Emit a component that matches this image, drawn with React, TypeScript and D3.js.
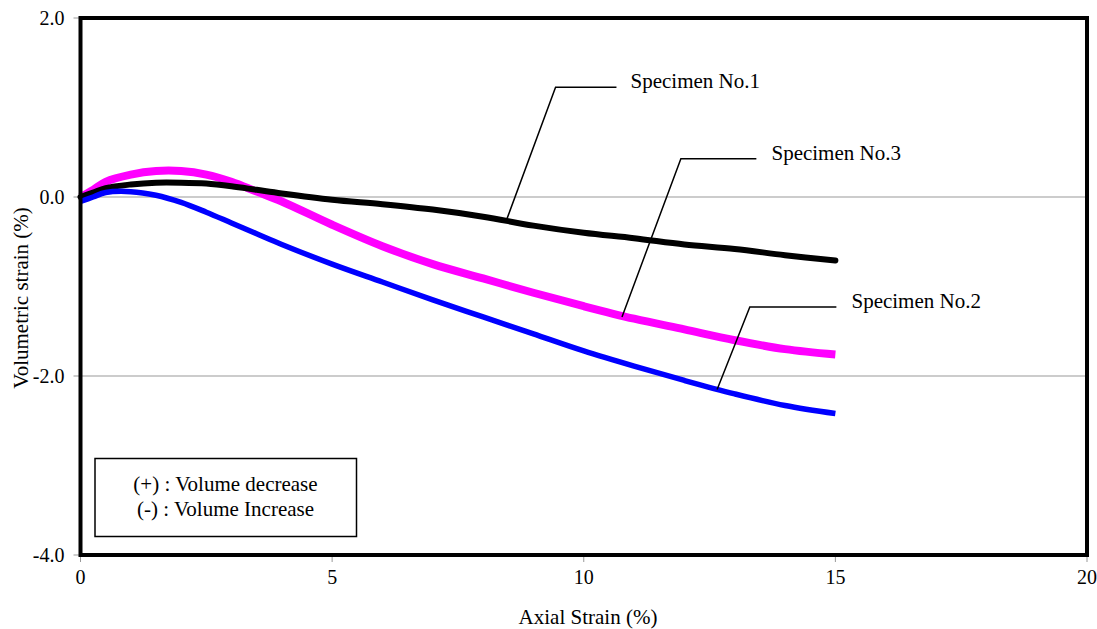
import React from "react";
import * as d3 from "d3";

// axial strain (%) sample points shared by all specimens
const axialStrain = [0, 0.25, 0.5, 1, 1.5, 2, 2.5, 3, 3.5, 4, 5, 6, 7, 8, 9, 10, 11, 12, 13, 14, 15];

// volumetric strain (%)
const specimen1 = [0, 0.05, 0.1, 0.14, 0.16, 0.16, 0.15, 0.12, 0.08, 0.04, -0.03, -0.08, -0.14, -0.22, -0.32, -0.4, -0.46, -0.53, -0.58, -0.65, -0.71];
const specimen2 = [-0.05, 0.0, 0.05, 0.06, 0.02, -0.06, -0.17, -0.29, -0.41, -0.53, -0.75, -0.95, -1.15, -1.34, -1.53, -1.72, -1.89, -2.05, -2.2, -2.33, -2.42];
const specimen3 = [0, 0.08, 0.17, 0.25, 0.29, 0.29, 0.25, 0.17, 0.06, -0.05, -0.31, -0.55, -0.75, -0.91, -1.07, -1.22, -1.36, -1.48, -1.6, -1.7, -1.76];

const xTicks = [0, 5, 10, 15, 20];
const yTicks = [2, 0, -2, -4];
const gridValues = [0, -2];

// callout labels: [curve point x, y], [elbow x, y], horizontal end x, text x
const calloutNames = ["Specimen No.1", "Specimen No.3", "Specimen No.2"];
const calloutTips = [[8.47, -0.25], [10.76, -1.34], [12.65, -2.15]];
const calloutElbows = [[9.44, 1.226], [11.93, 0.428], [13.3, -1.23]];
const calloutEnds = [10.65, 13.43, 15.02];
const calloutTextX = [10.93, 13.73, 15.32];

const legendLines = ["(+) : Volume decrease", "(-) : Volume Increase"];

const W = 1097;
const H = 629;
const margin = { top: 18, right: 10, bottom: 74, left: 80.5 };
const FONT = '"Liberation Serif", "Times New Roman", Times, serif';

export default function App() {
  const x = d3.scaleLinear().domain([0, 20]).range([margin.left, W - margin.right]);
  const y = d3.scaleLinear().domain([-4, 2]).range([H - margin.bottom, margin.top]);

  const line = d3
    .line<number>()
    .x((_, i) => x(axialStrain[i]))
    .y((d) => y(d))
    .curve(d3.curveCatmullRom.alpha(0.5));

  const series = [
    { values: specimen3, color: "#ff00ff", width: 8, cap: "butt" },
    { values: specimen1, color: "#000000", width: 6, cap: "round" },
    { values: specimen2, color: "#0000ff", width: 5.5, cap: "butt" },
  ];

  const fmt = (v: number) => d3.format(".1f")(v).replace("\u2212", "-");
  const x0 = x(0), x1 = x(20), yTop = y(2), yBot = y(-4);

  return (
    <svg
      width={W}
      height={H}
      style={{ position: "absolute", left: 0, top: 0, background: "#fff", fontFamily: FONT }}
    >
      {/* grid */}
      {gridValues.map((g) => (
        <line key={g} x1={x0} x2={x1} y1={y(g)} y2={y(g)} stroke="#999" strokeWidth={1} />
      ))}

      {/* y ticks */}
      {yTicks.map((t) => (
        <g key={t}>
          <line x1={x0 - 7} x2={x0} y1={y(t)} y2={y(t)} stroke="#999" />
          <text x={x0 - 16} y={y(t)} dy="0.35em" textAnchor="end" fontSize={20} fill="#000">
            {fmt(t)}
          </text>
        </g>
      ))}

      {/* x ticks */}
      {xTicks.map((t) => (
        <g key={t}>
          <line x1={x(t)} x2={x(t)} y1={yBot} y2={yBot + 7} stroke="#999" />
          <text x={x(t)} y={yBot + 29} textAnchor="middle" fontSize={20} fill="#000">
            {t}
          </text>
        </g>
      ))}

      {/* curves */}
      {series.map((s, i) => (
        <path
          key={i}
          d={line(s.values) || ""}
          fill="none"
          stroke={s.color}
          strokeWidth={s.width}
          strokeLinecap={s.cap as any}
          strokeLinejoin="round"
        />
      ))}

      {/* callouts */}
      {calloutNames.map((name, i) => {
        const [tx, ty] = calloutTips[i];
        const [ex, ey] = calloutElbows[i];
        return (
          <g key={name}>
            <polyline
              points={`${x(tx)},${y(ty)} ${x(ex)},${y(ey)} ${x(calloutEnds[i])},${y(ey)}`}
              fill="none"
              stroke="#000"
              strokeWidth={1.5}
            />
            <text x={x(calloutTextX[i])} y={y(ey) + 1} fontSize={21} fill="#000">
              {name}
            </text>
          </g>
        );
      })}

      {/* sign convention box */}
      <rect x={x0 + 14.5} y={yBot - 96.5} width={261.5} height={78} fill="#fff" stroke="#000" strokeWidth={1.5} />
      {legendLines.map((t, i) => (
        <text key={t} x={x0 + 145} y={yBot - 64.5 + i * 25.5} textAnchor="middle" fontSize={21} fill="#000">
          {t}
        </text>
      ))}

      {/* frame */}
      <rect x={x0} y={yTop} width={x1 - x0} height={yBot - yTop} fill="none" stroke="#000" strokeWidth={4} />

      {/* axis titles */}
      <text x={588} y={624} textAnchor="middle" fontSize={21} fill="#000">
        Axial Strain (%)
      </text>
      <text transform={`translate(28,298) rotate(-90)`} textAnchor="middle" fontSize={21} fill="#000">
        Volumetric strain (%)
      </text>
    </svg>
  );
}
